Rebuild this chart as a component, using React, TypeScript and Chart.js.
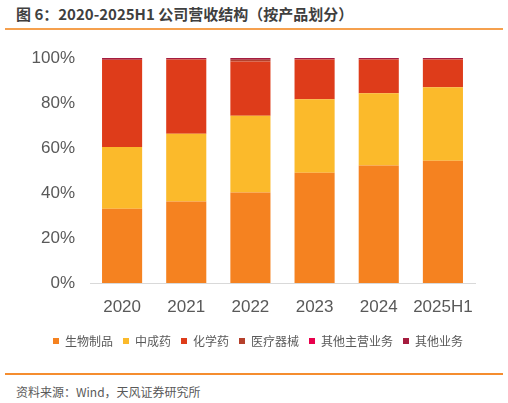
import React, { useEffect, useRef } from "react";
import { Chart, registerables } from "chart.js";

Chart.register(...registerables);

const categories = ["2020", "2021", "2022", "2023", "2024", "2025H1"];
const seriesNames = ["生物制品", "中成药", "化学药", "医疗器械", "其他主营业务", "其他业务"];
const bioProducts = [33.0, 36.2, 40.2, 49.0, 52.2, 54.3];
const chineseMedicine = [27.5, 30.1, 34.1, 32.7, 32.1, 32.7];
const chemicalDrugs = [38.7, 33.0, 24.2, 17.6, 15.0, 12.3];
const medicalDevices = [0, 0, 0.7, 0, 0, 0];
const otherMainBusiness = [0, 0, 0, 0, 0, 0];
const otherBusiness = [0.8, 0.7, 0.8, 0.7, 0.7, 0.7];
const yTicks = [0, 20, 40, 60, 80, 100];

const colors = ["#F58220", "#FBBA2B", "#DE3C1A", "#B5402B", "#E8004C", "#A51C3E"];

export default function App() {
  const canvasRef = useRef<HTMLCanvasElement | null>(null);

  useEffect(() => {
    if (!canvasRef.current) return;
    const seriesData = [bioProducts, chineseMedicine, chemicalDrugs, medicalDevices, otherMainBusiness, otherBusiness];
    const chart = new Chart(canvasRef.current, {
      type: "bar",
      data: {
        labels: categories,
        datasets: seriesNames.map((name, i) => ({
          label: name,
          data: seriesData[i],
          backgroundColor: colors[i],
          borderWidth: 0,
          categoryPercentage: 1,
          barPercentage: 0.625,
          yAxisID: "y",
        })),
      },
      options: {
        animation: false,
        responsive: false,
        maintainAspectRatio: false,
        layout: { padding: { left: 28, right: 20, top: 28, bottom: 13 } },
        plugins: {
          legend: {
            position: "bottom",
            labels: {
              boxWidth: 6,
              boxHeight: 6,
              padding: 10,
              color: "#595959",
              font: { family: "'Noto Sans CJK SC', sans-serif", size: 12 },
            },
          },
          tooltip: { enabled: false },
          title: { display: false },
        },
        scales: {
          x: {
            stacked: true,
            grid: { display: false, drawTicks: false },
            border: { display: true, color: "#d9d9d9", width: 1 },
            ticks: {
              padding: 14,
              maxRotation: 0,
              minRotation: 0,
              autoSkip: false,
              color: "#595959",
              font: { family: "'Liberation Sans', Arial, sans-serif", size: 17 },
            },
            afterFit: (scale: any) => {
              scale.height = 42;
            },
          },
          y: {
            stacked: true,
            position: "left",
            min: 0,
            max: 100,
            grid: { display: false, drawTicks: false },
            border: { display: false },
            afterBuildTicks: (scale: any) => {
              scale.ticks = yTicks.map((v) => ({ value: v }));
            },
            ticks: {
              padding: 15,
              color: "#595959",
              font: { family: "'Liberation Sans', Arial, sans-serif", size: 17 },
              callback: (v: any) => v + "%",
            },
            afterFit: (scale: any) => {
              scale.width = 62;
            },
          },
          yRight: {
            type: "linear",
            position: "right",
            display: true,
            min: 0,
            max: 100,
            grid: { display: false, drawTicks: false },
            border: { display: false },
            ticks: { display: false },
            afterFit: (scale: any) => {
              scale.width = 13;
            },
          },
        },
      },
    });
    return () => chart.destroy();
  }, []);

  return (
    <div style={{ position: "absolute", left: 0, top: 0, width: 508, height: 403, background: "#fff", overflow: "hidden" }}>
      <div
        style={{
          position: "absolute",
          left: 16,
          top: 4,
          fontFamily: "'Noto Sans CJK SC', sans-serif",
          fontWeight: 700,
          fontSize: 15,
          lineHeight: "20px",
          color: "#3f3f3f",
          whiteSpace: "nowrap",
        }}
      >
        图 6：2020-2025H1 公司营收结构（按产品划分）
      </div>
      <div style={{ position: "absolute", left: 5, top: 28, width: 498, height: 2, background: "#F5A04E" }} />
      <canvas ref={canvasRef} width={508} height={340} style={{ position: "absolute", left: 0, top: 30, width: 508, height: 340 }} />
      <div style={{ position: "absolute", left: 5, top: 373, width: 498, height: 2, background: "#F58D2F" }} />
      <div
        style={{
          position: "absolute",
          left: 16,
          top: 383,
          fontFamily: "'Noto Sans CJK SC', sans-serif",
          fontSize: 12,
          lineHeight: "17px",
          color: "#595959",
          whiteSpace: "nowrap",
        }}
      >
        资料来源：Wind，天风证券研究所
      </div>
    </div>
  );
}
